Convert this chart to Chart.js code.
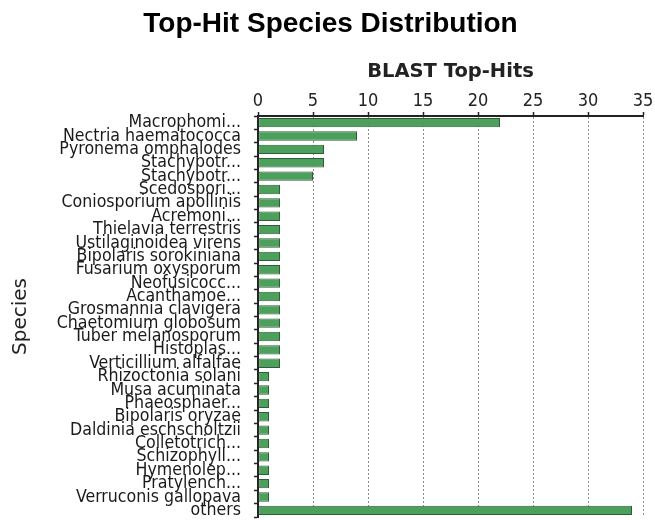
<!DOCTYPE html>
<html>
<head>
<meta charset="utf-8">
<script src="https://cdn.jsdelivr.net/npm/chart.js@4.4.0/dist/chart.umd.min.js"></script>
<style>
    html, body { margin: 0; padding: 0; background: #ffffff; }
    #wrap { width: 655px; height: 520px; position: relative; }
</style>
</head>
<body>
<div id="wrap"><canvas id="barChart"></canvas></div>
<script>
const species = [
    'Macrophomi...', 'Nectria haematococca', 'Pyronema omphalodes', 'Stachybotr...',
    'Stachybotr...', 'Scedospori...', 'Coniosporium apollinis', 'Acremoni...',
    'Thielavia terrestris', 'Ustilaginoidea virens', 'Bipolaris sorokiniana',
    'Fusarium oxysporum', 'Neofusicocc...', 'Acanthamoe...', 'Grosmannia clavigera',
    'Chaetomium globosum', 'Tuber melanosporum', 'Histoplas...', 'Verticillium alfalfae',
    'Rhizoctonia solani', 'Musa acuminata', 'Phaeosphaer...', 'Bipolaris oryzae',
    'Daldinia eschscholtzii', 'Colletotrich...', 'Schizophyll...', 'Hymenolep...',
    'Pratylench...', 'Verruconis gallopava', 'others'
];
const topHits = [
    22, 9, 6, 6, 5, 2, 2, 2, 2, 2, 2, 2, 2, 2, 2, 2, 2, 2, 2,
    1, 1, 1, 1, 1, 1, 1, 1, 1, 1, 34
];
const xTicks = [0, 5, 10, 15, 20, 25, 30, 35];

const labelFont = "'DejaVu Sans Condensed', 'DejaVu Sans', sans-serif";

const ctx1 = document.getElementById('barChart');
const barChart = new Chart(ctx1, {
    type: 'bar',
    data: {
        labels: species,
        datasets: [{
            label: 'BLAST Top-Hits',
            data: topHits,
            backgroundColor: '#4ca05c',
            borderColor: '#2e5e37',
            borderWidth: 1,
            borderSkipped: false,
            categoryPercentage: 1.0,
            barPercentage: 0.7
        }]
    },
    options: {
        indexAxis: 'y',
        responsive: true,
        maintainAspectRatio: false,
        animation: false,
        layout: {
            // left padding only nudges the centred title to the right
            padding: { left: 18, right: 12, top: 0, bottom: 3 }
        },
        plugins: {
            legend: { display: false },
            tooltip: { enabled: false },
            title: {
                display: true,
                text: 'Top-Hit Species Distribution',
                color: '#000000',
                font: { family: 'Liberation Sans', size: 28, weight: 'bold' },
                padding: { top: 7, bottom: 2 }
            }
        },
        scales: {
            x: {
                position: 'top',
                min: xTicks[0],
                max: xTicks[xTicks.length - 1],
                afterBuildTicks: function (scale) {
                    scale.ticks = xTicks.map(v => ({ value: v }));
                },
                afterFit: function (scale) {
                    scale.height = 73.4;
                },
                title: {
                    display: true,
                    text: 'BLAST Top-Hits',
                    color: '#222222',
                    font: { family: 'DejaVu Sans', size: 19.5, weight: 'bold' },
                    padding: { top: 17.5, bottom: 0 }
                },
                ticks: {
                    color: '#222222',
                    padding: 0,
                    maxRotation: 0,
                    font: { family: labelFont, size: 18 }
                },
                grid: {
                    color: '#8c8c8c',
                    lineWidth: 1,
                    tickLength: 4,
                    tickColor: '#222222',
                    tickWidth: 1.5,
                    tickBorderDash: [0, 0]
                },
                border: { display: true, color: '#222222', width: 2, dash: [2, 2] }
            },
            y: {
                afterFit: function (scale) {
                    scale.width = 240;
                    // labels overlap anyway, keep the plot running to the bottom edge
                    scale.paddingTop = 0;
                    scale.paddingBottom = 0;
                },
                title: {
                    display: true,
                    text: 'Species',
                    color: '#222222',
                    font: { family: 'DejaVu Sans', size: 20 },
                    padding: { top: -9, bottom: 0 }
                },
                ticks: {
                    autoSkip: false,
                    color: '#1a1a1a',
                    padding: 13,
                    font: { family: labelFont, size: 17.6 }
                },
                grid: {
                    drawOnChartArea: false,
                    tickLength: 4,
                    tickColor: '#222222',
                    tickWidth: 1.5
                },
                border: { display: true, color: '#222222', width: 2 }
            }
        }
    }
});
</script>
</body>
</html>
